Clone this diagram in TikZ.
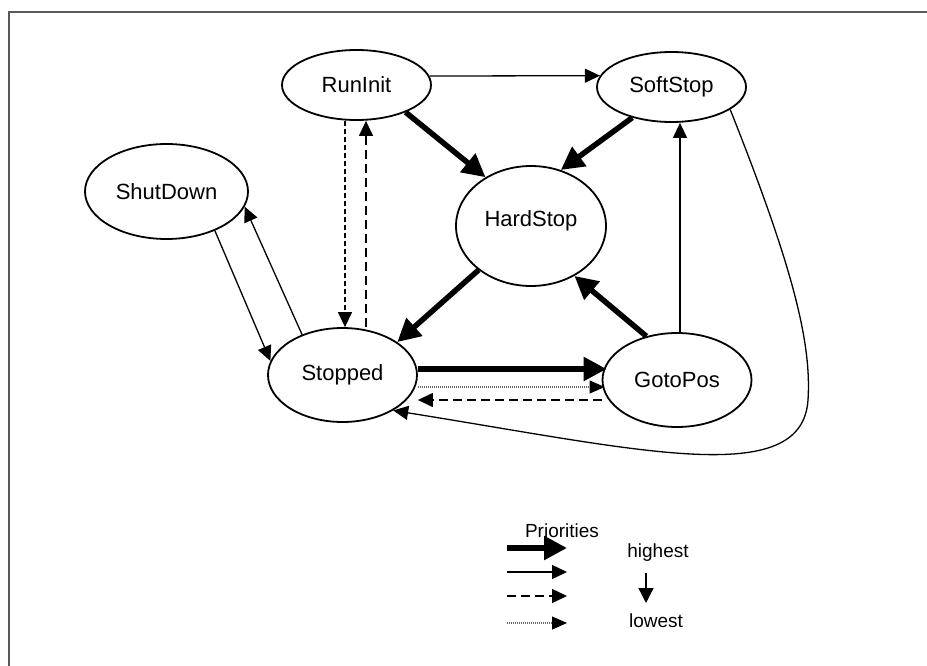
\documentclass[tikz,border=0pt]{standalone}
\usepackage{fontspec}
\setmainfont{Liberation Sans}
\usetikzlibrary{arrows.meta,shapes.geometric}

\tikzset{
  state/.style={draw, ellipse, line width=1.8pt, inner sep=0pt, minimum width=149pt, minimum height=94pt, font=\fontsize{22}{26}\selectfont},
  prio1/.style={line width=5.5pt, -{Triangle[length=23pt,width=23pt]}},
  prio2/.style={line width=1.3pt, -{Triangle[length=15pt,width=14pt]}},
  prio3/.style={prio2, dash pattern=on 9pt off 5pt},
  prio4/.style={line width=1.2pt, black!60, dash pattern=on 1pt off 1pt, -{Triangle[length=15pt,width=13pt,color=black]}},
  keytext/.style={font=\fontsize{19}{22}\selectfont}
}

\begin{document}
\begin{tikzpicture}[x=1pt,y=-1pt]
    \useasboundingbox (0,0) rectangle (927,666);
    % Frame
    \draw[line width=2pt, black!65] (9,666) -- (9,12) -- (927,12);

    % States
    \node[state, minimum height=70pt] (runinit) at (356.5,85) {RunInit};
    \node[state, minimum height=70pt] (softstop) at (671.5,87) {SoftStop};
    \node[state, minimum width=163pt, minimum height=95pt] (shutdown) at (166.5,191.5) {ShutDown};
    \node[state, minimum width=150pt, minimum height=120pt, text depth=14pt] (hardstop) at (531,226) {HardStop};
    \node[state] (stopped) at (342.5,375) {Stopped};
    \node[state] (gotopos) at (677,380) {GotoPos};

    % Transitions around HardStop
    \draw[prio2] (runinit.7) -- (softstop.171);
    \draw[prio1] (runinit.331) -- (hardstop.133);
    \draw[prio1] (softstop.218) -- (hardstop.62);
    \draw[prio1] (hardstop.220) -- (stopped.31);
    \draw[prio1] (gotopos.125) -- (hardstop.311);

    % RunInit <-> Stopped
    \coordinate (down1) at ([xshift=-11.5pt]runinit.south);
    \coordinate (up1) at ([xshift=9.5pt]runinit.south);
    \draw[prio3, dash pattern=on 5pt off 3pt] (down1) -- (down1 |- stopped.north);
    \draw[prio3] (up1 |- stopped.north) -- (up1);

    % ShutDown <-> Stopped
    \draw[prio2] (shutdown.321) -- (stopped.169);
    \draw[prio2] (stopped.135) -- (shutdown.349);

    % GotoPos -> SoftStop
    \coordinate (gp) at ([xshift=3pt]gotopos.north);
    \draw[prio2] (gp) -- (gp |- softstop.south);

    % Stopped <-> GotoPos
    \coordinate (st1) at ([yshift=6pt]stopped.east);
    \coordinate (st2) at ([yshift=-12pt]stopped.east);
    \coordinate (st3) at ([yshift=-25pt]stopped.east);
    \draw[prio1, shorten >=-5pt] (st1) -- (st1 -| gotopos.west);
    \draw[prio4, shorten >=-3pt] (st2) -- (st2 -| gotopos.west);
    \draw[prio3] (st3 -| gotopos.west) -- (st3);

    % SoftStop -> Stopped, round the right side
    \draw[prio2] (softstop.339) .. controls (790,260) and (812,340) .. (808,400)
        .. controls (802,490) and (640,450) .. (stopped.325);

    % Legend
    \node[keytext] (prios) at (562,531) {Priorities};
    \node[keytext] (highest) at (658,553) {highest};
    \node[keytext] (lowest) at (656,621) {lowest};
    \coordinate (key1) at (507,548); \coordinate (key1e) at (567,548);
    \coordinate (key2) at (507,572); \coordinate (key2e) at (567,572);
    \coordinate (key3) at (507,596); \coordinate (key3e) at (567,596);
    \coordinate (key4) at (507,623); \coordinate (key4e) at (567,623);
    \draw[prio1] (key1) -- (key1e);
    \draw[prio2] (key2) -- (key2e);
    \draw[prio3] (key3) -- (key3e);
    \draw[prio4] (key4) -- (key4e);
    \coordinate (scaletop) at (646,573);
    \coordinate (scalebot) at (646,603);
    \draw[line width=1.3pt, -{Triangle[length=15pt,width=15pt]}] (scaletop) -- (scalebot);
\end{tikzpicture}
\end{document}
